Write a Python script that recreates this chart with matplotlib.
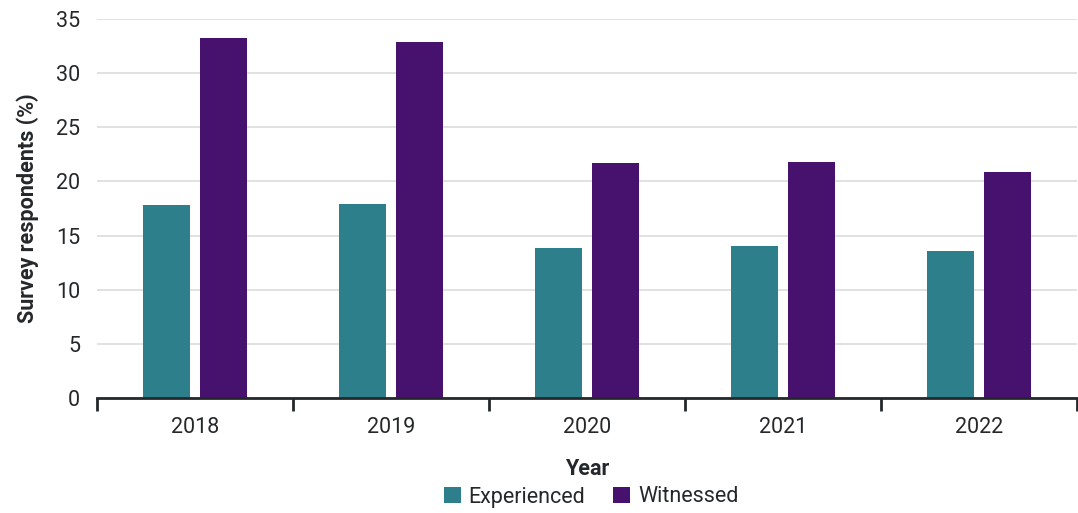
import numpy as np
import matplotlib.pyplot as plt
from matplotlib.ticker import FixedLocator

plt.rcParams['font.family'] = ['Roboto', 'DejaVu Sans']

years = ['2018', '2019', '2020', '2021', '2022']
experienced = [17.8, 17.9, 13.85, 14.0, 13.6]
witnessed = [33.2, 32.85, 21.7, 21.8, 20.9]

teal = '#2e7f8c'
purple = '#46126e'
dark = '#25282b'

fig = plt.figure(figsize=(10.78, 5.13), dpi=100)
ax = fig.add_axes([97 / 1078, 115 / 513, 980 / 1078, 379 / 513])

x = np.arange(len(years))
w = 0.24
ax.bar(x - 0.143, experienced, w, color=teal, label='Experienced', zorder=3)
ax.bar(x + 0.147, witnessed, w, color=purple, label='Witnessed', zorder=3)

ax.set_xlim(-0.5, len(years) - 0.5)
ax.set_ylim(0, 35)
ax.set_yticks(range(0, 36, 5))
ax.grid(axis='y', color='#dcdcdc', linewidth=1.2, zorder=0)

ax.set_xticks(x)
ax.set_xticklabels(years)
ax.xaxis.set_minor_locator(FixedLocator(np.arange(-0.5, len(years), 1.0)))
ax.tick_params(axis='x', which='major', length=0, pad=14, labelsize=15.5, labelcolor=dark)
ax.tick_params(axis='x', which='minor', length=9, width=2, color=dark)
ax.tick_params(axis='y', length=0, pad=12, labelsize=15.5, labelcolor=dark)

for s in ['top', 'right', 'left']:
    ax.spines[s].set_visible(False)
ax.spines['bottom'].set_color(dark)
ax.spines['bottom'].set_linewidth(2)
ax.spines['bottom'].set_zorder(4)

ax.set_ylabel('Survey respondents (%)', fontsize=15.5, fontweight='bold', color=dark, labelpad=12)
ax.set_xlabel('Year', fontsize=15.5, fontweight='bold', color=dark, labelpad=14)

handles, labels = ax.get_legend_handles_labels()
fig.legend(handles, labels, loc='center', bbox_to_anchor=(591 / 1078, 1 - 497 / 513), ncol=2,
           frameon=False, fontsize=15.5, handlelength=0.8, handleheight=0.8,
           handletextpad=0.35, columnspacing=1.3, labelcolor=dark,
           borderpad=0, borderaxespad=0)

fig.savefig('out.png', dpi=100)
